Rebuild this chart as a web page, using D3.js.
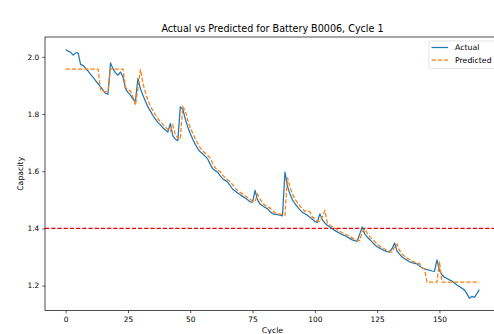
<!DOCTYPE html>
<html>
<head>
<meta charset="utf-8">
<script src="https://cdn.jsdelivr.net/npm/d3@7"></script>
<style>
  body { margin: 0; background: #fff; }
  svg { display: block; font-family: "DejaVu Sans", sans-serif; }
</style>
</head>
<body>
<div id="chart"></div>
<script>
// capacity per cycle
const actual = [
  2.026, 2.020, 2.016, 2.006, 2.014, 2.014, 1.973, 1.970, 1.960, 1.950,
  1.939, 1.928, 1.917, 1.906, 1.895, 1.884, 1.872, 1.870, 1.979, 1.958,
  1.944, 1.936, 1.947, 1.930, 1.889, 1.876, 1.866, 1.852, 1.846, 1.924,
  1.889, 1.866, 1.845, 1.825, 1.810, 1.795, 1.782, 1.771, 1.762, 1.752,
  1.744, 1.737, 1.767, 1.724, 1.712, 1.707, 1.825, 1.817, 1.782, 1.755,
  1.732, 1.712, 1.694, 1.679, 1.668, 1.661, 1.652, 1.643, 1.624, 1.609,
  1.602, 1.597, 1.584, 1.574, 1.568, 1.562, 1.550, 1.537, 1.531, 1.524,
  1.518, 1.512, 1.506, 1.500, 1.493, 1.492, 1.533, 1.500, 1.485, 1.479,
  1.473, 1.469, 1.459, 1.452, 1.449, 1.448, 1.446, 1.444, 1.597, 1.548,
  1.520, 1.500, 1.487, 1.475, 1.465, 1.456, 1.451, 1.446, 1.439, 1.432,
  1.424, 1.421, 1.451, 1.430, 1.419, 1.411, 1.405, 1.399, 1.393, 1.388,
  1.383, 1.378, 1.375, 1.370, 1.365, 1.360, 1.357, 1.355, 1.380, 1.405,
  1.381, 1.370, 1.361, 1.352, 1.343, 1.336, 1.331, 1.326, 1.322, 1.319,
  1.317, 1.330, 1.349, 1.320, 1.310, 1.300, 1.294, 1.289, 1.283, 1.280,
  1.278, 1.276, 1.268, 1.262, 1.259, 1.256, 1.254, 1.251, 1.250, 1.290,
  1.252, 1.238, 1.229, 1.225, 1.220, 1.216, 1.209, 1.202, 1.197, 1.191,
  1.185, 1.172, 1.156, 1.162, 1.159, 1.172, 1.186
];

const predicted = [
  1.957, 1.957, 1.957, 1.957, 1.957, 1.957, 1.957, 1.957, 1.957, 1.957,
  1.957, 1.957, 1.957, 1.957, 1.885, 1.880, 1.877, 1.885, 1.957, 1.957,
  1.957, 1.957, 1.957, 1.957, 1.893, 1.886, 1.880, 1.860, 1.831, 1.890,
  1.957, 1.907, 1.875, 1.848, 1.828, 1.812, 1.797, 1.784, 1.773, 1.764,
  1.754, 1.746, 1.740, 1.762, 1.728, 1.716, 1.712, 1.825, 1.812, 1.778,
  1.752, 1.733, 1.714, 1.697, 1.682, 1.671, 1.664, 1.655, 1.646, 1.627,
  1.612, 1.604, 1.599, 1.586, 1.577, 1.570, 1.564, 1.553, 1.540, 1.533,
  1.526, 1.520, 1.514, 1.508, 1.502, 1.495, 1.494, 1.520, 1.503, 1.488,
  1.481, 1.475, 1.471, 1.462, 1.455, 1.452, 1.450, 1.448, 1.446, 1.578,
  1.545, 1.521, 1.503, 1.490, 1.478, 1.469, 1.460, 1.462, 1.458, 1.440,
  1.434, 1.426, 1.424, 1.440, 1.462, 1.420, 1.412, 1.406, 1.401, 1.396,
  1.390, 1.385, 1.380, 1.377, 1.372, 1.367, 1.362, 1.359, 1.357, 1.388,
  1.398, 1.383, 1.372, 1.363, 1.354, 1.345, 1.338, 1.333, 1.328, 1.324,
  1.321, 1.316, 1.338, 1.345, 1.322, 1.311, 1.302, 1.296, 1.291, 1.285,
  1.282, 1.280, 1.277, 1.263, 1.257, 1.212, 1.212, 1.212, 1.212, 1.212,
  1.285, 1.212, 1.212, 1.212, 1.212, 1.212, 1.212, 1.212, 1.212, 1.212,
  1.212, 1.212, 1.212, 1.212, 1.212, 1.212, 1.212
];

const xTicks = [0, 25, 50, 75, 100, 125, 150];
const yTicks = [1.2, 1.4, 1.6, 1.8, 2.0];
const threshold = 1.4;
const seriesNames = ["Actual", "Predicted"];
const seriesColors = ["#1f77b4", "#ff7f0e"];

const size = { w: 494, h: 334 };
const box = { left: 45, right: 500, top: 37, bottom: 310.6 };
const fs = { tick: 7.4, label: 7.8, title: 9.6 };
const dash = "4.3,1.9";

// matplotlib style 5% padding around the data
let pad = (ext) => { let m = (ext[1] - ext[0]) * 0.05; return [ext[0] - m, ext[1] + m]; };

const cycles = actual.map((d, i) => i);
const x = d3.scaleLinear().domain(pad(d3.extent(cycles))).range([box.left, box.right]);
const y = d3.scaleLinear().domain(pad(d3.extent(actual.concat(predicted)))).range([box.bottom, box.top]);

const svg = d3.select("#chart").append("svg")
  .attr("width", size.w)
  .attr("height", size.h);

svg.append("rect").attr("width", size.w).attr("height", size.h).attr("fill", "#fff");

let plot = svg.append("g");
plot.append("clipPath").attr("id", "clip")
  .append("rect")
  .attr("x", box.left).attr("y", box.top)
  .attr("width", box.right - box.left).attr("height", box.bottom - box.top);

let line = d3.line().x((d, i) => x(i)).y(d => y(d));

let lines = plot.append("g").attr("clip-path", "url(#clip)");

lines.append("line")
  .attr("x1", box.left).attr("x2", box.right)
  .attr("y1", y(threshold)).attr("y2", y(threshold))
  .attr("stroke", "#e8000b").attr("stroke-width", 1.1)
  .attr("stroke-dasharray", dash);

lines.append("path")
  .datum(actual)
  .attr("d", line)
  .attr("fill", "none")
  .attr("stroke", seriesColors[0])
  .attr("stroke-width", 1.25)
  .attr("stroke-linejoin", "round");

lines.append("path")
  .datum(predicted)
  .attr("d", line)
  .attr("fill", "none")
  .attr("stroke", seriesColors[1])
  .attr("stroke-width", 1.25)
  .attr("stroke-dasharray", dash);

// axes
let xAxis = d3.axisBottom(x).tickValues(xTicks).tickSize(2.7).tickPadding(3).tickFormat(d3.format("d"));
let yAxis = d3.axisLeft(y).tickValues(yTicks).tickSize(2.7).tickPadding(3).tickFormat(d3.format(".1f"));

let gx = svg.append("g").attr("transform", `translate(0,${box.bottom})`).call(xAxis);
let gy = svg.append("g").attr("transform", `translate(${box.left},0)`).call(yAxis);

[gx, gy].forEach(g => {
  g.select(".domain").remove();
  g.selectAll("line").attr("stroke", "#000").attr("stroke-width", 0.65);
  g.selectAll("text").attr("font-size", fs.tick).attr("fill", "#000")
    .attr("font-family", "DejaVu Sans");
});

// spines
svg.append("rect")
  .attr("x", box.left).attr("y", box.top)
  .attr("width", box.right - box.left).attr("height", box.bottom - box.top)
  .attr("fill", "none").attr("stroke", "#000").attr("stroke-width", 0.7);

svg.append("text")
  .attr("x", (box.left + box.right) / 2).attr("y", 31.7)
  .attr("text-anchor", "middle")
  .attr("font-size", fs.title)
  .text("Actual vs Predicted for Battery B0006, Cycle 1");

svg.append("text")
  .attr("x", (box.left + box.right) / 2).attr("y", 332.5)
  .attr("text-anchor", "middle")
  .attr("font-size", fs.label)
  .text("Cycle");

svg.append("text")
  .attr("transform", `translate(22.5,${(box.top + box.bottom) / 2}) rotate(-90)`)
  .attr("text-anchor", "middle")
  .attr("font-size", fs.label)
  .text("Capacity");

// legend, upper right
let legend = svg.append("g").attr("transform", "translate(429,41)");
legend.append("rect")
  .attr("width", 67).attr("height", 27.5).attr("rx", 2)
  .attr("fill", "#fff").attr("fill-opacity", 0.8)
  .attr("stroke", "#d6d6d6").attr("stroke-width", 0.7);

seriesNames.forEach((name, i) => {
  let row = legend.append("g").attr("transform", `translate(0,${6.5 + i * 12.7})`);
  row.append("line")
    .attr("x1", 2.5).attr("x2", 19)
    .attr("stroke", seriesColors[i]).attr("stroke-width", 1.25)
    .attr("stroke-dasharray", i ? dash : null);
  row.append("text")
    .attr("x", 26).attr("y", 2.8)
    .attr("font-size", fs.label)
    .text(name);
});
</script>
</body>
</html>
